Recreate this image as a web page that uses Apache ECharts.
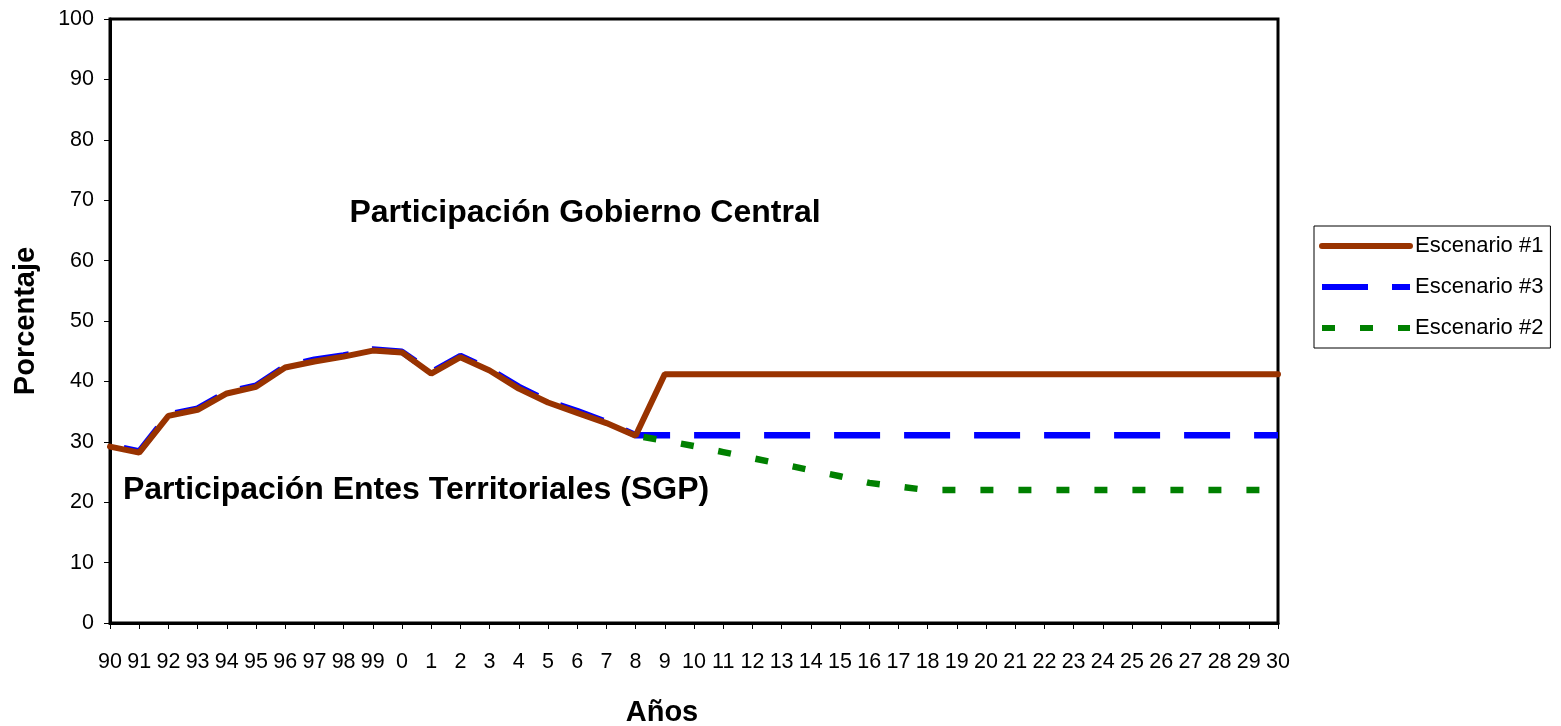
<!DOCTYPE html>
<html>
<head>
<meta charset="utf-8">
<title>Participación</title>
<script src="https://cdn.jsdelivr.net/npm/echarts@6/dist/echarts.min.js"></script>
<style>
    html, body { margin: 0; padding: 0; background: #fff; }
    #chart { width: 1561px; height: 726px; }
</style>
</head>
<body>
<div id="chart"></div>
<script>
var years = ['90','91','92','93','94','95','96','97','98','99','0','1','2','3','4','5','6','7','8','9','10',
    '11','12','13','14','15','16','17','18','19','20','21','22','23','24','25','26','27','28','29','30'];

var escenario1 = [29.2, 28.2, 34.3, 35.3, 38.0, 39.1, 42.3, 43.3, 44.1, 45.1, 44.8, 41.3, 44.0, 41.8, 38.8, 36.5, 34.8, 33.1, 31.0,
    41.2, 41.2, 41.2, 41.2, 41.2, 41.2, 41.2, 41.2, 41.2, 41.2, 41.2, 41.2, 41.2, 41.2, 41.2, 41.2, 41.2, 41.2, 41.2, 41.2, 41.2, 41.2];

var escenario3 = [29.4, 28.4, 34.5, 35.5, 38.2, 39.3, 42.5, 43.6, 44.3, 45.3, 44.9, 41.5, 44.2, 42.0, 39.1, 36.7, 35.1, 33.3, 31.1,
    31.1, 31.1, 31.1, 31.1, 31.1, 31.1, 31.1, 31.1, 31.1, 31.1, 31.1, 31.1, 31.1, 31.1, 31.1, 31.1, 31.1, 31.1, 31.1, 31.1, 31.1, 31.1];

var escenario2 = [null, null, null, null, null, null, null, null, null, null, null, null, null, null, null, null, null, null, 31.0,
    30.2, 29.3, 28.3, 27.3, 26.3, 25.3, 24.3, 23.2, 22.6, 22.0, 22.0, 22.0, 22.0, 22.0, 22.0, 22.0, 22.0, 22.0, 22.0, 22.0, 22.0, 22.0];

var yTicks = [0, 100, 10]; // min, max, interval

var fontFam = '"Liberation Sans", Arial, sans-serif';

var myChart = echarts.init(document.getElementById('chart'));
var option = {
    animation: false,
    backgroundColor: '#fff',
    grid: {
        left: 110,
        right: 283,
        top: 19,
        bottom: 103,
        outerBoundsMode: 'none',
        show: true,
        borderColor: '#000',
        borderWidth: 3
    },
    legend: {
        orient: 'vertical',
        left: 1314,
        top: 226,
        itemWidth: 88,
        itemHeight: 22,
        itemGap: 19,
        padding: [9, 7, 9, 5],
        borderColor: '#000',
        borderWidth: 1,
        itemStyle: { opacity: 0 },
        lineStyle: { width: 6 },
        textStyle: {
            fontFamily: fontFam,
            fontSize: 22,
            color: '#000'
        },
        data: [
            { name: 'Escenario #1' },
            { name: 'Escenario #3', lineStyle: { width: 6, dashOffset: 0 } },
            { name: 'Escenario #2', lineStyle: { width: 6, dashOffset: 0 } }
        ]
    },
    xAxis: {
        type: 'category',
        data: years,
        boundaryGap: false,
        name: 'Años',
        nameLocation: 'middle',
        nameGap: 75,
        nameTextStyle: {
            fontFamily: fontFam,
            fontSize: 29,
            fontWeight: 'bold',
            color: '#000',
            padding: [0, 64, 0, 0]
        },
        axisLine: { lineStyle: { color: '#000', width: 3 } },
        axisTick: { show: true, length: 6, lineStyle: { color: '#000', width: 1 } },
        axisLabel: {
            interval: 0,
            margin: 28,
            fontFamily: fontFam,
            fontSize: 21.5,
            color: '#000'
        },
        splitLine: { show: false }
    },
    yAxis: {
        type: 'value',
        min: yTicks[0],
        max: yTicks[1],
        interval: yTicks[2],
        name: 'Porcentaje',
        nameLocation: 'middle',
        nameGap: 70,
        nameTextStyle: {
            fontFamily: fontFam,
            fontSize: 29,
            fontWeight: 'bold',
            color: '#000'
        },
        axisLine: { show: true, lineStyle: { color: '#000', width: 3 } },
        axisTick: { show: true, length: 6, lineStyle: { color: '#000', width: 1 } },
        axisLabel: {
            margin: 16,
            fontFamily: fontFam,
            fontSize: 21.5,
            color: '#000'
        },
        splitLine: { show: false }
    },
    graphic: [
        {
            type: 'text',
            x: 585,
            y: 213,
            style: {
                text: 'Participación Gobierno Central',
                font: 'bold 32px ' + fontFam,
                fill: '#000',
                textAlign: 'center',
                textVerticalAlign: 'middle'
            }
        },
        {
            type: 'text',
            x: 416,
            y: 490,
            style: {
                text: 'Participación Entes Territoriales (SGP)',
                font: 'bold 32px ' + fontFam,
                fill: '#000',
                textAlign: 'center',
                textVerticalAlign: 'middle'
            }
        }
    ],
    series: [
        {
            name: 'Escenario #3',
            type: 'line',
            data: escenario3,
            showSymbol: false,
            symbol: 'none',
            z: 2,
            lineStyle: { color: '#0000ff', width: 6.5, type: [46, 24], dashOffset: 56, cap: 'butt' },
            itemStyle: { color: '#0000ff' }
        },
        {
            name: 'Escenario #1',
            type: 'line',
            data: escenario1,
            showSymbol: false,
            symbol: 'none',
            z: 3,
            lineStyle: { color: '#993300', width: 6, cap: 'round' },
            itemStyle: { color: '#993300' }
        },
        {
            name: 'Escenario #2',
            type: 'line',
            data: escenario2,
            showSymbol: false,
            symbol: 'none',
            z: 4,
            lineStyle: { color: '#008000', width: 6.5, type: [13, 25], dashOffset: 30, cap: 'butt' },
            itemStyle: { color: '#008000' }
        }
    ]
};
myChart.setOption(option, true);
</script>
</body>
</html>
